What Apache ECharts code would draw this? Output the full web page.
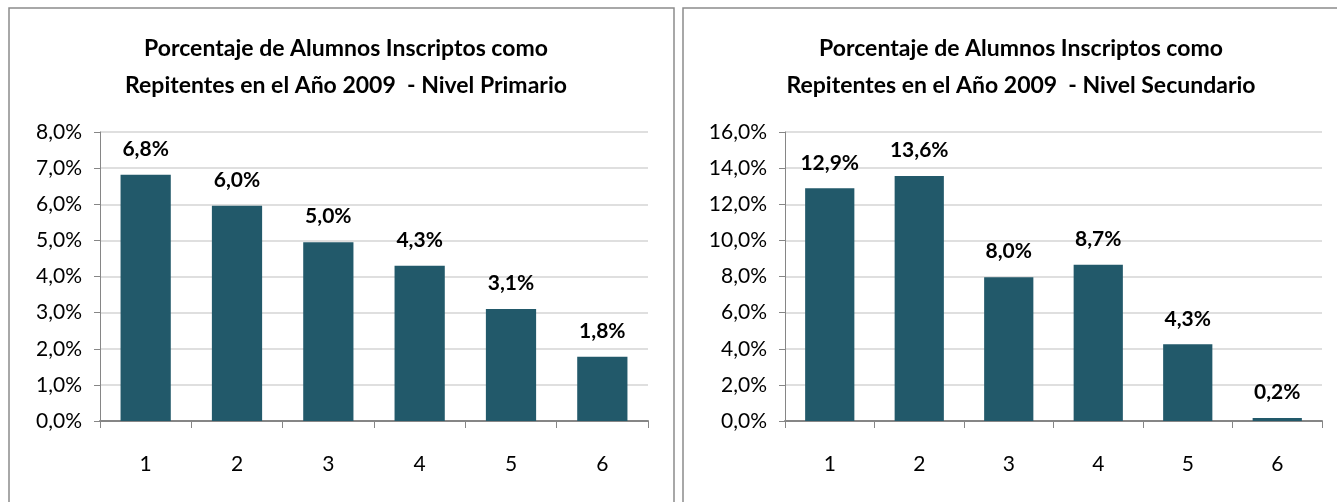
<!DOCTYPE html>
<html>
<head>
<meta charset="utf-8">
<script src="https://cdn.jsdelivr.net/npm/echarts@6/dist/echarts.min.js"></script>
<style>
  html, body { margin: 0; padding: 0; background: #fff; }
  #chart { width: 1337px; height: 502px; }
</style>
</head>
<body>
<div id="chart"></div>
<script>
// grados (categorias del eje x)
var grados = ["1", "2", "3", "4", "5", "6"];
// porcentaje de repitentes
var primario = [6.82, 5.96, 4.95, 4.3, 3.1, 1.78];
var secundario = [12.88, 13.56, 7.96, 8.65, 4.25, 0.17];

var titulos = [
  "Porcentaje de Alumnos Inscriptos como\nRepitentes en el Año 2009  - Nivel Primario",
  "Porcentaje de Alumnos Inscriptos como\nRepitentes en el Año 2009  - Nivel Secundario"
];

var fuente = "Lato, 'Open Sans', sans-serif";
var barColor = "#22596a";
var axisGray = "#868686";

function pct(v) {
  return v.toFixed(1).replace(".", ",") + "%";
}

function xAxis(idx) {
  return {
    type: "category",
    gridIndex: idx,
    data: grados,
    axisLine: { lineStyle: { color: axisGray, width: 2 } },
    axisTick: { show: true, length: 7, lineStyle: { color: axisGray, width: 1 } },
    axisLabel: { margin: 33, color: "#000", fontSize: 21, fontFamily: fuente },
  };
}

function yAxis(idx, max, interval) {
  return {
    type: "value",
    gridIndex: idx,
    min: 0,
    max: max,
    interval: interval,
    axisLine: { show: true, lineStyle: { color: axisGray, width: 1 } },
    axisTick: { show: true, length: 6, lineStyle: { color: axisGray } },
    axisLabel: {
      margin: 18,
      color: "#000",
      fontSize: 21,
      fontFamily: fuente,
      formatter: pct,
    },
    splitLine: { lineStyle: { color: "#d4d4d4", width: 1.5 } },
  };
}

function serie(idx, data) {
  return {
    type: "bar",
    xAxisIndex: idx,
    yAxisIndex: idx,
    data: data,
    barWidth: "55%",
    itemStyle: { color: barColor },
    label: {
      show: true,
      position: "top",
      distance: 15,
      color: "#000",
      fontWeight: "bold",
      fontSize: 21,
      fontFamily: fuente,
      formatter: function (p) { return pct(p.value); },
    },
  };
}

var chart = echarts.init(document.getElementById("chart"));
chart.setOption({
  animation: false,
  title: [
    {
      text: titulos[0],
      left: 341,
      top: 25,
      textAlign: "center",
      textStyle: { fontSize: 23, fontWeight: "bold", fontFamily: fuente, lineHeight: 37, color: "#000" },
    },
    {
      text: titulos[1],
      left: 1016,
      top: 25,
      textAlign: "center",
      textStyle: { fontSize: 23, fontWeight: "bold", fontFamily: fuente, lineHeight: 37, color: "#000" },
    },
  ],
  graphic: [
    {
      type: "rect",
      shape: { x: 9, y: 8, width: 665, height: 520 },
      style: { fill: null, stroke: "#8c8c8c", lineWidth: 1.5 },
      silent: true,
    },
    {
      type: "rect",
      shape: { x: 683, y: 8, width: 680, height: 520 },
      style: { fill: null, stroke: "#8c8c8c", lineWidth: 1.5 },
      silent: true,
    },
  ],
  grid: [
    { left: 100, right: 689, top: 132, bottom: 81 },
    { left: 785, right: 15, top: 132, bottom: 81 },
  ],
  xAxis: [xAxis(0), xAxis(1)],
  yAxis: [yAxis(0, 8, 1), yAxis(1, 16, 2)],
  series: [serie(0, primario), serie(1, secundario)],
});
</script>
</body>
</html>
